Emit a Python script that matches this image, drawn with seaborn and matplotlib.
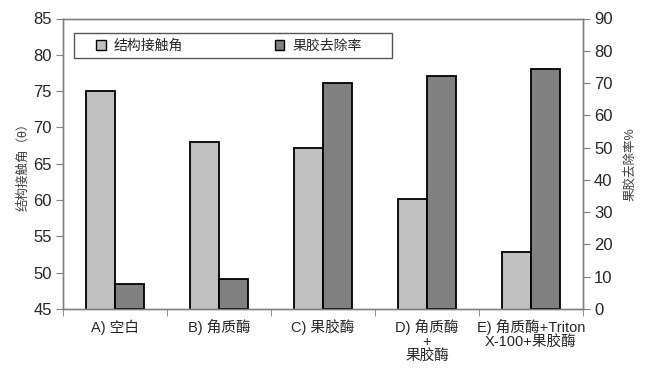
import numpy as np
import pandas as pd
import matplotlib
matplotlib.use("Agg")
import matplotlib.pyplot as plt
import seaborn as sns
from matplotlib.patches import Patch, Rectangle

categories = ["A) 空白", "B) 角质酶", "C) 果胶酶", "D) 角质酶\n+\n果胶酶", "E) 角质酶+Triton\nX-100+果胶酶"]
series_names = ["结构接触角", "果胶去除率"]
contact_angle = [75.0, 68.0, 67.1, 60.1, 52.8]
removal_rate = [7.6, 9.2, 70.0, 72.2, 74.3]
left_ticks = [45, 50, 55, 60, 65, 70, 75, 80, 85]
right_ticks = [0, 10, 20, 30, 40, 50, 60, 70, 80, 90]

sns.set_style("white")
plt.rcParams["font.family"] = ["Liberation Sans", "Noto Sans CJK SC", "DejaVu Sans"]

rows = []
for c, a, r in zip(categories, contact_angle, removal_rate):
    rows.append({"cat": c, "series": series_names[0], "angle": a, "rate": np.nan})
    rows.append({"cat": c, "series": series_names[1], "angle": np.nan, "rate": r})
df = pd.DataFrame(rows)

colors = {series_names[0]: "#c0c0c0", series_names[1]: "#808080"}

fig = plt.figure(figsize=(6.53, 3.81), dpi=100)
ax1 = fig.add_axes([63/653, 1-309/381, 520/653, 290.5/381])
ax2 = ax1.twinx()

sns.barplot(data=df, x="cat", y="angle", hue="series", hue_order=series_names,
            palette=colors, width=0.56, edgecolor="black", linewidth=1.3,
            order=categories, ax=ax1, legend=False, errorbar=None)
sns.barplot(data=df, x="cat", y="rate", hue="series", hue_order=series_names,
            palette=colors, width=0.56, edgecolor="black", linewidth=1.3,
            order=categories, ax=ax2, legend=False, errorbar=None)

ax1.set_ylim(45, 85)
ax1.set_yticks(left_ticks)
ax2.set_ylim(0, 90)
ax2.set_yticks(right_ticks)
ax1.set_xlim(-0.5, len(categories) - 0.5)

for ax in (ax1, ax2):
    for s in ax.spines.values():
        s.set_color("#808080")
        s.set_linewidth(1.0)
    ax.set_xlabel("")

ax1.tick_params(axis="y", which="both", left=True, direction="out", length=5,
                color="#808080", labelsize=12, pad=3)
ax2.tick_params(axis="y", which="both", right=True, direction="out", length=5,
                color="#808080", labelsize=12, pad=3)

# x ticks at category boundaries, labels at centers
ax1.set_xticks(np.arange(len(categories)))
ax1.set_xticklabels(categories, fontsize=10.5, va="top", linespacing=0.95)
ax1.tick_params(axis="x", which="major", bottom=False, pad=4)
ax1.set_xticks(np.arange(-0.5, len(categories)), minor=True)
ax1.tick_params(axis="x", which="minor", bottom=True, direction="out", length=5,
                color="#808080")

ax1.set_ylabel("结构接触角（θ）", fontsize=9, color="#404040", labelpad=3)
ax2.set_ylabel("果胶去除率%", fontsize=9, color="#404040", labelpad=8)

# legend frame
ax2.add_patch(Rectangle((11/520, 1-39.5/290.5), 318/520, 25/290.5,
                        transform=ax2.transAxes, facecolor="white",
                        edgecolor="#555555", linewidth=1.0, zorder=5, clip_on=False))
handles = [Patch(facecolor=colors[s], edgecolor="black", linewidth=1.0) for s in series_names]
leg = ax2.legend(handles, series_names, loc="center left", ncol=2, mode="expand",
                 bbox_to_anchor=(33/520, 1-27/290.5, 266/520, 0.0), frameon=False,
                 fontsize=10, handlelength=0.7, handleheight=0.7, handletextpad=0.6,
                 borderpad=0.0, borderaxespad=0)
leg.set_zorder(6)

fig.savefig("out.png", dpi=100)
